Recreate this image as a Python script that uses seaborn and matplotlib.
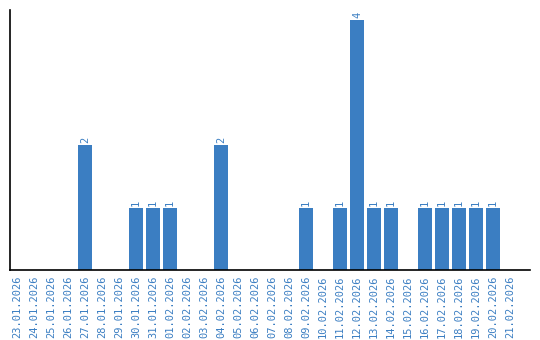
import matplotlib
matplotlib.use("Agg")
import matplotlib.pyplot as plt
import seaborn as sns
import pandas as pd

dates = ["23.01.2026", "24.01.2026", "25.01.2026", "26.01.2026", "27.01.2026",
         "28.01.2026", "29.01.2026", "30.01.2026", "31.01.2026", "01.02.2026",
         "02.02.2026", "03.02.2026", "04.02.2026", "05.02.2026", "06.02.2026",
         "07.02.2026", "08.02.2026", "09.02.2026", "10.02.2026", "11.02.2026",
         "12.02.2026", "13.02.2026", "14.02.2026", "15.02.2026", "16.02.2026",
         "17.02.2026", "18.02.2026", "19.02.2026", "20.02.2026", "21.02.2026"]
counts = [0, 0, 0, 0, 2, 0, 0, 1, 1, 1, 0, 0, 2, 0, 0, 0, 0, 1, 0, 1,
          4, 1, 1, 0, 1, 1, 1, 1, 1, 0]

blue = "#3b7ec2"
sns.set_style("white")
plt.rcParams["font.family"] = ["DejaVu Sans Mono"]

df = pd.DataFrame({"date": dates, "count": counts})
fig = plt.figure(figsize=(5.4, 3.4), dpi=100)
ax = fig.add_axes([10 / 540, 70 / 340, 520 / 540, 260 / 340])
sns.barplot(data=df, x="date", y="count", color=blue, width=0.84,
            saturation=1, ax=ax, order=dates, linewidth=0, edgecolor="none")
ax.set_xlim(-0.41, 30.18)
ax.set_ylim(0, 4.16)
ax.set_xlabel("")
ax.set_ylabel("")
ax.set_yticks([])
ax.tick_params(axis="x", length=0, pad=4, labelsize=7.5, labelcolor=blue, rotation=90)
for s in ["top", "right"]:
    ax.spines[s].set_visible(False)
for s in ["left", "bottom"]:
    ax.spines[s].set_color("black")
    ax.spines[s].set_linewidth(1.2)
for i, v in enumerate(counts):
    if v > 0:
        ax.text(i, v + 0.03, str(v), rotation=90, ha="center", va="bottom",
                fontsize=7.5, color=blue)
fig.savefig("out.png", dpi=100)
